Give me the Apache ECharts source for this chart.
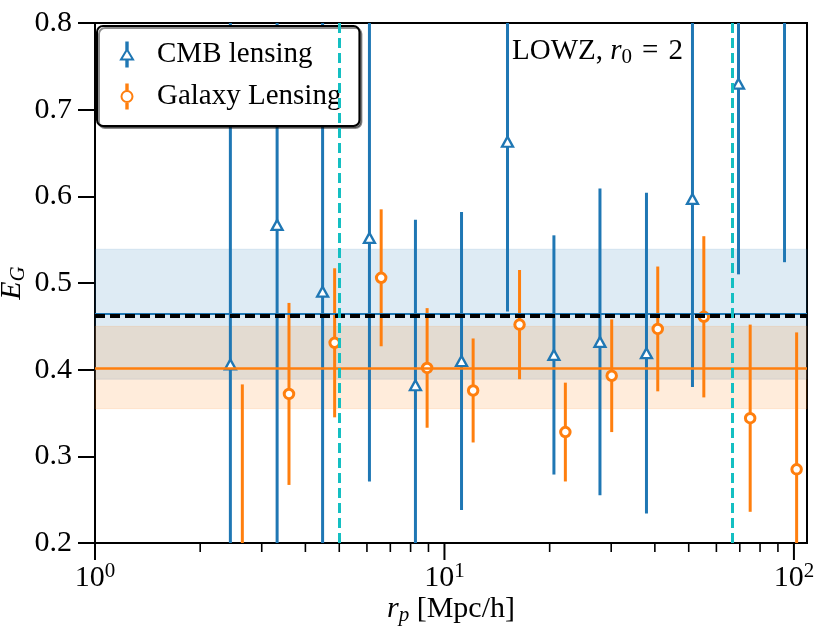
<!DOCTYPE html>
<html>
<head>
<meta charset="utf-8">
<script src="https://cdn.jsdelivr.net/npm/echarts@6.0.0/dist/echarts.min.js"></script>
<style>
  html, body { margin: 0; padding: 0; background: #fff; }
  #chart { width: 830px; height: 629px; }
</style>
</head>
<body>
<div id="chart"></div>
<script>
// ---- data ----
const cmbR   = [2.44, 3.32, 4.48, 6.10, 8.26, 11.19, 15.15, 20.57, 27.86, 37.85, 51.25, 69.41, 94.0];
const cmbEG  = [0.406, 0.567, 0.490, 0.552, 0.382, 0.410, 0.663, 0.417, 0.432, 0.419, 0.597, 0.730, 0.950];
const cmbErr = [0.450, 0.400, 0.350, 0.281, 0.191, 0.172, 0.196, 0.138, 0.177, 0.185, 0.217, 0.220, 0.426];

const galR   = [2.64, 3.59, 4.85, 6.59, 8.92, 12.08, 16.40, 22.18, 30.10, 40.77, 55.23, 74.96, 101.8];
const galEG  = [0.150, 0.372, 0.431, 0.506, 0.402, 0.376, 0.452, 0.328, 0.393, 0.447, 0.461, 0.344, 0.285];
const galErr = [0.233, 0.105, 0.086, 0.079, 0.069, 0.060, 0.063, 0.057, 0.065, 0.072, 0.093, 0.108, 0.158];

const cmbMean = 0.465, cmbBand = [0.389, 0.539];
const galMean = 0.402, galBand = [0.355, 0.450];
const theoryLine = 0.4625;
const scaleCuts = [5.0, 66.4];

const yTicks = [0.2, 0.3, 0.4, 0.5, 0.6, 0.7, 0.8];
const xMajorTicks = [1, 10, 100];
const xMinorTicks = [2, 3, 4, 5, 6, 7, 8, 9, 20, 30, 40, 50, 60, 70, 80, 90];

// ---- styling ----
const BLUE = '#1f77b4', ORANGE = '#ff7f0e', CYAN = '#14bfc2';
const FONT = 'Liberation Serif';
const FS = 30;     // tick labels, axis names
const FSL = 29;    // legend / annotation

function errorBarRenderer(color) {
  return function (params, api) {
    const x = api.value(0), y = api.value(1), e = api.value(2);
    const p1 = api.coord([x, y + e]);
    const p2 = api.coord([x, y - e]);
    const cs = params.coordSys;
    const top = Math.max(p1[1], cs.y);
    const bot = Math.min(p2[1], cs.y + cs.height);
    if (bot <= top) return null;
    return {
      type: 'line',
      shape: { x1: p1[0], y1: top, x2: p1[0], y2: bot },
      style: { stroke: color, lineWidth: 3 }
    };
  };
}
function tickRenderer(len, w) {
  return function (params, api) {
    const p = api.coord([api.value(0), api.value(1)]);
    return {
      type: 'line',
      shape: { x1: p[0], y1: p[1], x2: p[0], y2: p[1] + len },
      style: { stroke: '#000', lineWidth: w }
    };
  };
}

const cmbIcon = 'path://M5.3,0L6.7,0L6.7,7L5.3,7Z M6,7L12,17L0,17Z M5.3,17L6.7,17L6.7,24L5.3,24Z';
const galIcon = 'path://M5.3,0L6.7,0L6.7,6.5L5.3,6.5Z M0.5,12A5.5,5.5 0 1,1 11.5,12A5.5,5.5 0 1,1 0.5,12Z M5.3,17.5L6.7,17.5L6.7,24L5.3,24Z';

const chart = echarts.init(document.getElementById('chart'), null, { renderer: 'canvas' });

const option = {
  animation: false,
  backgroundColor: '#fff',
  textStyle: { fontFamily: FONT },
  title: {
    text: 'LOWZ, {i|r}{s|0}{e|=}2',
    left: 512, top: 35, padding: 0,
    textStyle: {
      fontFamily: FONT, fontSize: FSL, fontWeight: 'normal', color: '#000',
      rich: {
        i: { fontFamily: FONT, fontSize: FSL, fontStyle: 'italic', color: '#000' },
        s: { fontFamily: FONT, fontSize: 21, color: '#000', padding: [12, 0, 0, 0] },
        e: { fontFamily: FONT, fontSize: FSL, color: '#000', padding: [0, 10, 0, 10] }
      }
    }
  },
  legend: {
    left: 97, top: 26,
    orient: 'vertical',
    padding: [14, 18, 15, 23],
    itemGap: 13,
    itemWidth: 14, itemHeight: 24,
    backgroundColor: '#fff',
    borderColor: '#000', borderWidth: 2, borderRadius: 6,
    shadowColor: 'rgba(0,0,0,0.45)', shadowBlur: 0, shadowOffsetX: 2, shadowOffsetY: 2,
    textStyle: { fontFamily: FONT, fontSize: FSL, color: '#000', lineHeight: 24, padding: [0, 0, 0, 18] },
    data: [
      { name: 'CMB lensing', icon: cmbIcon },
      { name: 'Galaxy Lensing', icon: galIcon }
    ]
  },
  grid: {
    left: 95, right: 23, top: 23, bottom: 86,
    containLabel: false, outerBoundsMode: 'none',
    show: true, borderColor: '#000', borderWidth: 2, backgroundColor: 'transparent'
  },
  xAxis: {
    type: 'log', logBase: 10, min: 1, max: 109,
    name: '{i|r}{s|p} [Mpc/h]',
    nameLocation: 'middle', nameGap: 50, nameMoveOverlap: false,
    nameTextStyle: {
      fontFamily: FONT, fontSize: FS, color: '#000',
      rich: {
        i: { fontFamily: FONT, fontSize: FS, fontStyle: 'italic', color: '#000' },
        s: { fontFamily: FONT, fontSize: 21, fontStyle: 'italic', color: '#000', padding: [12, 0, 0, 0] }
      }
    },
    axisLine: { show: true, lineStyle: { color: '#000', width: 2 } },
    axisTick: { show: false },
    splitLine: { show: false },
    axisLabel: {
      margin: 18,
      fontFamily: FONT, fontSize: FS, color: '#000',
      formatter: function (v) {
        const k = Math.log10(v);
        if (Math.abs(k - Math.round(k)) < 1e-6) return '{b|10}{p|' + Math.round(k) + '}';
        return '';
      },
      rich: {
        b: { fontFamily: FONT, fontSize: FS, color: '#000' },
        p: { fontFamily: FONT, fontSize: 21, color: '#000', padding: [0, 0, 14, 0] }
      }
    }
  },
  yAxis: {
    type: 'value', min: 0.2, max: 0.8, interval: 0.1,
    name: '{i|E}{s|G}',
    nameLocation: 'middle', nameGap: 66, nameRotate: 90, nameMoveOverlap: false,
    nameTextStyle: {
      fontFamily: FONT, fontSize: FS, color: '#000',
      rich: {
        i: { fontFamily: FONT, fontSize: FS, fontStyle: 'italic', color: '#000' },
        s: { fontFamily: FONT, fontSize: 21, fontStyle: 'italic', color: '#000', padding: [12, 0, 0, 0] }
      }
    },
    axisLine: { show: true, lineStyle: { color: '#000', width: 2 } },
    axisTick: { show: true, length: 17, inside: false, lineStyle: { color: '#000', width: 2 } },
    splitLine: { show: false },
    axisLabel: {
      margin: 23, fontFamily: FONT, fontSize: FS, color: '#000',
      formatter: function (v) { return v.toFixed(1); }
    }
  },
  series: [
    // shaded bands
    {
      type: 'line', data: [], z: 1, silent: true,
      markArea: {
        silent: true,
        data: [
          [{ yAxis: cmbBand[0], itemStyle: { color: 'rgba(31,119,180,0.15)', borderColor: 'rgba(31,119,180,0.12)', borderWidth: 1 } }, { yAxis: cmbBand[1] }],
          [{ yAxis: galBand[0], itemStyle: { color: 'rgba(255,127,14,0.15)', borderColor: 'rgba(255,127,14,0.12)', borderWidth: 1 } }, { yAxis: galBand[1] }]
        ]
      }
    },
    // horizontal mean lines
    {
      type: 'line', data: [], z: 2, silent: true,
      markLine: {
        silent: true, precision: 5, symbol: ['none', 'none'], label: { show: false },
        data: [
          { yAxis: cmbMean, lineStyle: { color: BLUE, width: 2.2, type: 'solid' } },
          { yAxis: galMean, lineStyle: { color: ORANGE, width: 2.5, type: 'solid' } }
        ]
      }
    },
    {
      type: 'line', data: [], z: 2.5, silent: true,
      markLine: {
        silent: true, precision: 5, symbol: ['none', 'none'], label: { show: false },
        data: [
          { yAxis: theoryLine, lineStyle: { color: '#000', width: 3.8, type: [10, 5] } }
        ]
      }
    },
    // error bars
    {
      type: 'custom', name: 'cmbErr', z: 3, silent: true,
      renderItem: errorBarRenderer(BLUE),
      data: cmbR.map((r, i) => [r, cmbEG[i], cmbErr[i]])
    },
    {
      type: 'custom', name: 'galErr', z: 3, silent: true,
      renderItem: errorBarRenderer(ORANGE),
      data: galR.map((r, i) => [r, galEG[i], galErr[i]])
    },
    // markers
    {
      type: 'scatter', name: 'CMB lensing', z: 4,
      symbol: 'triangle', symbolSize: [11, 10],
      itemStyle: { color: '#fff', borderColor: BLUE, borderWidth: 2.3, opacity: 1 },
      data: cmbR.map((r, i) => [r, cmbEG[i]])
    },
    {
      type: 'scatter', name: 'Galaxy Lensing', z: 4,
      symbol: 'circle', symbolSize: 9.5,
      itemStyle: { color: '#fff', borderColor: ORANGE, borderWidth: 3, opacity: 1 },
      data: galR.map((r, i) => [r, galEG[i]])
    },
    // vertical scale cuts
    {
      type: 'line', data: [], z: 5, silent: true,
      markLine: {
        silent: true, precision: 5, symbol: ['none', 'none'], label: { show: false },
        lineStyle: { color: CYAN, width: 3, type: [10, 5] },
        data: scaleCuts.map(v => ({ xAxis: v }))
      }
    },
    // x-axis ticks (log axis: major + minor)
    {
      type: 'custom', name: 'xMajor', z: 6, silent: true, clip: false,
      renderItem: tickRenderer(17, 2),
      data: xMajorTicks.map(v => [v, yTicks[0]])
    },
    {
      type: 'custom', name: 'xMinor', z: 6, silent: true, clip: false,
      renderItem: tickRenderer(9, 1.6),
      data: xMinorTicks.map(v => [v, yTicks[0]])
    }
  ]
};
chart.setOption(option);
</script>
</body>
</html>
